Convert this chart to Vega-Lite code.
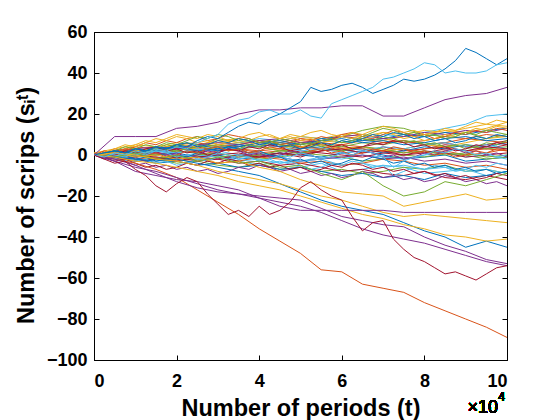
{"$schema":"https://vega.github.io/schema/vega-lite/v6.json","width":413,"height":328,"autosize":"none","padding":{"left":94,"top":32,"right":53,"bottom":60},
"config":{"view":{"stroke":"black","strokeWidth":1},"font":"Liberation Sans","axis":{"grid":false,"domainColor":"black","tickColor":"black","tickSize":-5,"labelColor":"black","labelFont":"Liberation Sans","labelFontSize":18,"labelFontWeight":"bold","titleFont":"Liberation Sans","titleFontSize":23.5,"titleFontWeight":"bold","titleColor":"black"}},
"data":{"values":[
{"s":8,"t":0,"v":0},{"s":8,"t":0.5,"v":1},{"s":8,"t":1,"v":3},{"s":8,"t":1.5,"v":2},{"s":8,"t":2,"v":4},{"s":8,"t":2.5,"v":3},{"s":8,"t":3,"v":5},{"s":8,"t":3.5,"v":4},{"s":8,"t":4,"v":6},{"s":8,"t":4.5,"v":5},{"s":8,"t":5,"v":7},{"s":8,"t":5.5,"v":6},{"s":8,"t":6,"v":5},{"s":8,"t":6.5,"v":7},{"s":8,"t":7,"v":8},{"s":8,"t":7.5,"v":6},{"s":8,"t":8,"v":7},{"s":8,"t":8.5,"v":9},{"s":8,"t":9,"v":8},{"s":8,"t":9.5,"v":10},{"s":8,"t":10,"v":9},
{"s":11,"t":0,"v":0},{"s":11,"t":0.5,"v":2},{"s":11,"t":1,"v":1},{"s":11,"t":1.5,"v":3},{"s":11,"t":2,"v":5},{"s":11,"t":2.5,"v":4},{"s":11,"t":3,"v":8},{"s":11,"t":3.5,"v":6},{"s":11,"t":4,"v":7},{"s":11,"t":4.5,"v":5},{"s":11,"t":5,"v":4},{"s":11,"t":5.5,"v":6},{"s":11,"t":6,"v":9},{"s":11,"t":6.5,"v":12},{"s":11,"t":7,"v":14},{"s":11,"t":7.5,"v":13},{"s":11,"t":8,"v":10},{"s":11,"t":8.5,"v":9},{"s":11,"t":9,"v":11},{"s":11,"t":9.5,"v":8},{"s":11,"t":10,"v":10},
{"s":12,"t":0,"v":1},{"s":12,"t":0.5,"v":-1},{"s":12,"t":1,"v":0},{"s":12,"t":1.5,"v":-2},{"s":12,"t":2,"v":-1},{"s":12,"t":2.5,"v":1},{"s":12,"t":3,"v":0},{"s":12,"t":3.5,"v":-3},{"s":12,"t":4,"v":-5},{"s":12,"t":4.5,"v":-3},{"s":12,"t":5,"v":-6},{"s":12,"t":5.5,"v":-4},{"s":12,"t":6,"v":-8},{"s":12,"t":6.5,"v":-7},{"s":12,"t":7,"v":-5},{"s":12,"t":7.5,"v":-6},{"s":12,"t":8,"v":-9},{"s":12,"t":8.5,"v":-8},{"s":12,"t":9,"v":-7},{"s":12,"t":9.5,"v":-10},{"s":12,"t":10,"v":-8},
{"s":13,"t":0,"v":0},{"s":13,"t":0.5,"v":-2},{"s":13,"t":1,"v":-1},{"s":13,"t":1.5,"v":0},{"s":13,"t":2,"v":2},{"s":13,"t":2.5,"v":1},{"s":13,"t":3,"v":3},{"s":13,"t":3.5,"v":2},{"s":13,"t":4,"v":0},{"s":13,"t":4.5,"v":1},{"s":13,"t":5,"v":-1},{"s":13,"t":5.5,"v":2},{"s":13,"t":6,"v":3},{"s":13,"t":6.5,"v":1},{"s":13,"t":7,"v":4},{"s":13,"t":7.5,"v":2},{"s":13,"t":8,"v":3},{"s":13,"t":8.5,"v":5},{"s":13,"t":9,"v":4},{"s":13,"t":9.5,"v":3},{"s":13,"t":10,"v":5},
{"s":14,"t":0,"v":0},{"s":14,"t":0.5,"v":1},{"s":14,"t":1,"v":-1},{"s":14,"t":1.5,"v":2},{"s":14,"t":2,"v":1},{"s":14,"t":2.5,"v":3},{"s":14,"t":3,"v":2},{"s":14,"t":3.5,"v":4},{"s":14,"t":4,"v":6},{"s":14,"t":4.5,"v":5},{"s":14,"t":5,"v":3},{"s":14,"t":5.5,"v":4},{"s":14,"t":6,"v":2},{"s":14,"t":6.5,"v":3},{"s":14,"t":7,"v":1},{"s":14,"t":7.5,"v":2},{"s":14,"t":8,"v":4},{"s":14,"t":8.5,"v":3},{"s":14,"t":9,"v":5},{"s":14,"t":9.5,"v":4},{"s":14,"t":10,"v":6},
{"s":15,"t":0,"v":1},{"s":15,"t":0.5,"v":0},{"s":15,"t":1,"v":2},{"s":15,"t":1.5,"v":1},{"s":15,"t":2,"v":-1},{"s":15,"t":2.5,"v":0},{"s":15,"t":3,"v":2},{"s":15,"t":3.5,"v":3},{"s":15,"t":4,"v":1},{"s":15,"t":4.5,"v":2},{"s":15,"t":5,"v":4},{"s":15,"t":5.5,"v":3},{"s":15,"t":6,"v":5},{"s":15,"t":6.5,"v":4},{"s":15,"t":7,"v":2},{"s":15,"t":7.5,"v":3},{"s":15,"t":8,"v":1},{"s":15,"t":8.5,"v":2},{"s":15,"t":9,"v":0},{"s":15,"t":9.5,"v":1},{"s":15,"t":10,"v":3},
{"s":18,"t":0,"v":0},{"s":18,"t":0.5,"v":-1},{"s":18,"t":1,"v":-3},{"s":18,"t":1.5,"v":-2},{"s":18,"t":2,"v":-4},{"s":18,"t":2.5,"v":-3},{"s":18,"t":3,"v":-5},{"s":18,"t":3.5,"v":-6},{"s":18,"t":4,"v":-4},{"s":18,"t":4.5,"v":-7},{"s":18,"t":5,"v":-6},{"s":18,"t":5.5,"v":-8},{"s":18,"t":6,"v":-7},{"s":18,"t":6.5,"v":-9},{"s":18,"t":7,"v":-8},{"s":18,"t":7.5,"v":-6},{"s":18,"t":8,"v":-7},{"s":18,"t":8.5,"v":-5},{"s":18,"t":9,"v":-8},{"s":18,"t":9.5,"v":-7},{"s":18,"t":10,"v":-9},
{"s":19,"t":0,"v":0},{"s":19,"t":0.5,"v":1},{"s":19,"t":1,"v":2},{"s":19,"t":1.5,"v":4},{"s":19,"t":2,"v":3},{"s":19,"t":2.5,"v":5},{"s":19,"t":3,"v":4},{"s":19,"t":3.5,"v":6},{"s":19,"t":4,"v":8},{"s":19,"t":4.5,"v":7},{"s":19,"t":5,"v":9},{"s":19,"t":5.5,"v":8},{"s":19,"t":6,"v":6},{"s":19,"t":6.5,"v":7},{"s":19,"t":7,"v":10},{"s":19,"t":7.5,"v":9},{"s":19,"t":8,"v":11},{"s":19,"t":8.5,"v":13},{"s":19,"t":9,"v":15},{"s":19,"t":9.5,"v":19},{"s":19,"t":10,"v":20},
{"s":20,"t":0,"v":0},{"s":20,"t":0.5,"v":-1},{"s":20,"t":1,"v":0},{"s":20,"t":1.5,"v":-2},{"s":20,"t":2,"v":-3},{"s":20,"t":2.5,"v":-1},{"s":20,"t":3,"v":-2},{"s":20,"t":3.5,"v":-4},{"s":20,"t":4,"v":-3},{"s":20,"t":4.5,"v":-5},{"s":20,"t":5,"v":-4},{"s":20,"t":5.5,"v":-6},{"s":20,"t":6,"v":-8},{"s":20,"t":6.5,"v":-7},{"s":20,"t":7,"v":-9},{"s":20,"t":7.5,"v":-10},{"s":20,"t":8,"v":-8},{"s":20,"t":8.5,"v":-11},{"s":20,"t":9,"v":-12},{"s":20,"t":9.5,"v":-10},{"s":20,"t":10,"v":-12},
{"s":21,"t":0,"v":0},{"s":21,"t":0.5,"v":2},{"s":21,"t":1,"v":1},{"s":21,"t":1.5,"v":0},{"s":21,"t":2,"v":1},{"s":21,"t":2.5,"v":-1},{"s":21,"t":3,"v":0},{"s":21,"t":3.5,"v":-2},{"s":21,"t":4,"v":-1},{"s":21,"t":4.5,"v":1},{"s":21,"t":5,"v":0},{"s":21,"t":5.5,"v":-1},{"s":21,"t":6,"v":1},{"s":21,"t":6.5,"v":2},{"s":21,"t":7,"v":0},{"s":21,"t":7.5,"v":-2},{"s":21,"t":8,"v":-1},{"s":21,"t":8.5,"v":0},{"s":21,"t":9,"v":-3},{"s":21,"t":9.5,"v":-2},{"s":21,"t":10,"v":-1},
{"s":22,"t":0,"v":0},{"s":22,"t":0.5,"v":1},{"s":22,"t":1,"v":0},{"s":22,"t":1.5,"v":2},{"s":22,"t":2,"v":3},{"s":22,"t":2.5,"v":2},{"s":22,"t":3,"v":4},{"s":22,"t":3.5,"v":3},{"s":22,"t":4,"v":2},{"s":22,"t":4.5,"v":3},{"s":22,"t":5,"v":1},{"s":22,"t":5.5,"v":2},{"s":22,"t":6,"v":4},{"s":22,"t":6.5,"v":3},{"s":22,"t":7,"v":2},{"s":22,"t":7.5,"v":1},{"s":22,"t":8,"v":3},{"s":22,"t":8.5,"v":4},{"s":22,"t":9,"v":2},{"s":22,"t":9.5,"v":3},{"s":22,"t":10,"v":2},
{"s":23,"t":0,"v":1},{"s":23,"t":0.5,"v":3},{"s":23,"t":1,"v":5},{"s":23,"t":1.5,"v":4},{"s":23,"t":2,"v":6},{"s":23,"t":2.5,"v":5},{"s":23,"t":3,"v":7},{"s":23,"t":3.5,"v":8},{"s":23,"t":4,"v":6},{"s":23,"t":4.5,"v":7},{"s":23,"t":5,"v":9},{"s":23,"t":5.5,"v":8},{"s":23,"t":6,"v":10},{"s":23,"t":6.5,"v":9},{"s":23,"t":7,"v":11},{"s":23,"t":7.5,"v":10},{"s":23,"t":8,"v":12},{"s":23,"t":8.5,"v":11},{"s":23,"t":9,"v":13},{"s":23,"t":9.5,"v":15},{"s":23,"t":10,"v":14},
{"s":25,"t":0,"v":0},{"s":25,"t":0.5,"v":-1},{"s":25,"t":1,"v":1},{"s":25,"t":1.5,"v":0},{"s":25,"t":2,"v":2},{"s":25,"t":2.5,"v":1},{"s":25,"t":3,"v":-1},{"s":25,"t":3.5,"v":0},{"s":25,"t":4,"v":-2},{"s":25,"t":4.5,"v":-1},{"s":25,"t":5,"v":1},{"s":25,"t":5.5,"v":0},{"s":25,"t":6,"v":-1},{"s":25,"t":6.5,"v":-3},{"s":25,"t":7,"v":-2},{"s":25,"t":7.5,"v":0},{"s":25,"t":8,"v":-1},{"s":25,"t":8.5,"v":1},{"s":25,"t":9,"v":0},{"s":25,"t":9.5,"v":-2},{"s":25,"t":10,"v":-1},
{"s":26,"t":0,"v":0},{"s":26,"t":0.5,"v":-2},{"s":26,"t":1,"v":-3},{"s":26,"t":1.5,"v":-1},{"s":26,"t":2,"v":-2},{"s":26,"t":2.5,"v":0},{"s":26,"t":3,"v":-1},{"s":26,"t":3.5,"v":-3},{"s":26,"t":4,"v":-2},{"s":26,"t":4.5,"v":-4},{"s":26,"t":5,"v":-3},{"s":26,"t":5.5,"v":-1},{"s":26,"t":6,"v":-2},{"s":26,"t":6.5,"v":0},{"s":26,"t":7,"v":-1},{"s":26,"t":7.5,"v":-2},{"s":26,"t":8,"v":0},{"s":26,"t":8.5,"v":1},{"s":26,"t":9,"v":-1},{"s":26,"t":9.5,"v":0},{"s":26,"t":10,"v":-2},
{"s":27,"t":0,"v":0},{"s":27,"t":0.5,"v":1},{"s":27,"t":1,"v":2},{"s":27,"t":1.5,"v":1},{"s":27,"t":2,"v":3},{"s":27,"t":2.5,"v":4},{"s":27,"t":3,"v":2},{"s":27,"t":3.5,"v":3},{"s":27,"t":4,"v":5},{"s":27,"t":4.5,"v":4},{"s":27,"t":5,"v":6},{"s":27,"t":5.5,"v":5},{"s":27,"t":6,"v":3},{"s":27,"t":6.5,"v":4},{"s":27,"t":7,"v":6},{"s":27,"t":7.5,"v":7},{"s":27,"t":8,"v":5},{"s":27,"t":8.5,"v":6},{"s":27,"t":9,"v":4},{"s":27,"t":9.5,"v":5},{"s":27,"t":10,"v":7},
{"s":28,"t":0,"v":0},{"s":28,"t":0.5,"v":-1},{"s":28,"t":1,"v":-2},{"s":28,"t":1.5,"v":-4},{"s":28,"t":2,"v":-3},{"s":28,"t":2.5,"v":-5},{"s":28,"t":3,"v":-4},{"s":28,"t":3.5,"v":-6},{"s":28,"t":4,"v":-5},{"s":28,"t":4.5,"v":-7},{"s":28,"t":5,"v":-6},{"s":28,"t":5.5,"v":-8},{"s":28,"t":6,"v":-10},{"s":28,"t":6.5,"v":-9},{"s":28,"t":7,"v":-11},{"s":28,"t":7.5,"v":-10},{"s":28,"t":8,"v":-12},{"s":28,"t":8.5,"v":-9},{"s":28,"t":9,"v":-11},{"s":28,"t":9.5,"v":-10},{"s":28,"t":10,"v":-8},
{"s":29,"t":0,"v":0},{"s":29,"t":0.5,"v":2},{"s":29,"t":1,"v":4},{"s":29,"t":1.5,"v":3},{"s":29,"t":2,"v":5},{"s":29,"t":2.5,"v":6},{"s":29,"t":3,"v":4},{"s":29,"t":3.5,"v":5},{"s":29,"t":4,"v":7},{"s":29,"t":4.5,"v":6},{"s":29,"t":5,"v":8},{"s":29,"t":5.5,"v":7},{"s":29,"t":6,"v":9},{"s":29,"t":6.5,"v":8},{"s":29,"t":7,"v":6},{"s":29,"t":7.5,"v":7},{"s":29,"t":8,"v":5},{"s":29,"t":8.5,"v":6},{"s":29,"t":9,"v":8},{"s":29,"t":9.5,"v":7},{"s":29,"t":10,"v":6},
{"s":30,"t":0,"v":0},{"s":30,"t":0.5,"v":1},{"s":30,"t":1,"v":3},{"s":30,"t":1.5,"v":2},{"s":30,"t":2,"v":4},{"s":30,"t":2.5,"v":3},{"s":30,"t":3,"v":5},{"s":30,"t":3.5,"v":6},{"s":30,"t":4,"v":4},{"s":30,"t":4.5,"v":3},{"s":30,"t":5,"v":5},{"s":30,"t":5.5,"v":7},{"s":30,"t":6,"v":6},{"s":30,"t":6.5,"v":8},{"s":30,"t":7,"v":7},{"s":30,"t":7.5,"v":9},{"s":30,"t":8,"v":10},{"s":30,"t":8.5,"v":12},{"s":30,"t":9,"v":11},{"s":30,"t":9.5,"v":13},{"s":30,"t":10,"v":16},
{"s":31,"t":0,"v":0},{"s":31,"t":0.5,"v":-1},{"s":31,"t":1,"v":0},{"s":31,"t":1.5,"v":1},{"s":31,"t":2,"v":0},{"s":31,"t":2.5,"v":-1},{"s":31,"t":3,"v":-2},{"s":31,"t":3.5,"v":-1},{"s":31,"t":4,"v":0},{"s":31,"t":4.5,"v":-1},{"s":31,"t":5,"v":-3},{"s":31,"t":5.5,"v":-2},{"s":31,"t":6,"v":-1},{"s":31,"t":6.5,"v":0},{"s":31,"t":7,"v":-2},{"s":31,"t":7.5,"v":-1},{"s":31,"t":8,"v":-3},{"s":31,"t":8.5,"v":-2},{"s":31,"t":9,"v":-4},{"s":31,"t":9.5,"v":-3},{"s":31,"t":10,"v":-5},
{"s":32,"t":0,"v":0},{"s":32,"t":0.5,"v":1},{"s":32,"t":1,"v":2},{"s":32,"t":1.5,"v":3},{"s":32,"t":2,"v":2},{"s":32,"t":2.5,"v":4},{"s":32,"t":3,"v":5},{"s":32,"t":3.5,"v":3},{"s":32,"t":4,"v":4},{"s":32,"t":4.5,"v":2},{"s":32,"t":5,"v":3},{"s":32,"t":5.5,"v":5},{"s":32,"t":6,"v":4},{"s":32,"t":6.5,"v":6},{"s":32,"t":7,"v":5},{"s":32,"t":7.5,"v":7},{"s":32,"t":8,"v":6},{"s":32,"t":8.5,"v":4},{"s":32,"t":9,"v":5},{"s":32,"t":9.5,"v":3},{"s":32,"t":10,"v":4},
{"s":33,"t":0,"v":0},{"s":33,"t":0.5,"v":-1},{"s":33,"t":1,"v":1},{"s":33,"t":1.5,"v":2},{"s":33,"t":2,"v":1},{"s":33,"t":2.5,"v":3},{"s":33,"t":3,"v":2},{"s":33,"t":3.5,"v":0},{"s":33,"t":4,"v":1},{"s":33,"t":4.5,"v":-1},{"s":33,"t":5,"v":-3},{"s":33,"t":5.5,"v":-2},{"s":33,"t":6,"v":-5},{"s":33,"t":6.5,"v":-4},{"s":33,"t":7,"v":-6},{"s":33,"t":7.5,"v":-5},{"s":33,"t":8,"v":-7},{"s":33,"t":8.5,"v":-6},{"s":33,"t":9,"v":-8},{"s":33,"t":9.5,"v":-7},{"s":33,"t":10,"v":-9},
{"s":34,"t":0,"v":0},{"s":34,"t":0.5,"v":1},{"s":34,"t":1,"v":0},{"s":34,"t":1.5,"v":-1},{"s":34,"t":2,"v":-2},{"s":34,"t":2.5,"v":-1},{"s":34,"t":3,"v":0},{"s":34,"t":3.5,"v":1},{"s":34,"t":4,"v":-1},{"s":34,"t":4.5,"v":0},{"s":34,"t":5,"v":2},{"s":34,"t":5.5,"v":1},{"s":34,"t":6,"v":0},{"s":34,"t":6.5,"v":-1},{"s":34,"t":7,"v":1},{"s":34,"t":7.5,"v":0},{"s":34,"t":8,"v":2},{"s":34,"t":8.5,"v":1},{"s":34,"t":9,"v":-1},{"s":34,"t":9.5,"v":0},{"s":34,"t":10,"v":1},
{"s":35,"t":0,"v":0},{"s":35,"t":0.5,"v":1},{"s":35,"t":1,"v":3},{"s":35,"t":1.5,"v":2},{"s":35,"t":2,"v":4},{"s":35,"t":2.5,"v":5},{"s":35,"t":3,"v":3},{"s":35,"t":3.5,"v":4},{"s":35,"t":4,"v":6},{"s":35,"t":4.5,"v":7},{"s":35,"t":5,"v":5},{"s":35,"t":5.5,"v":8},{"s":35,"t":6,"v":9},{"s":35,"t":6.5,"v":7},{"s":35,"t":7,"v":8},{"s":35,"t":7.5,"v":10},{"s":35,"t":8,"v":9},{"s":35,"t":8.5,"v":11},{"s":35,"t":9,"v":10},{"s":35,"t":9.5,"v":12},{"s":35,"t":10,"v":13},
{"s":36,"t":0,"v":0},{"s":36,"t":0.5,"v":-1},{"s":36,"t":1,"v":-2},{"s":36,"t":1.5,"v":-1},{"s":36,"t":2,"v":-3},{"s":36,"t":2.5,"v":-2},{"s":36,"t":3,"v":-4},{"s":36,"t":3.5,"v":-3},{"s":36,"t":4,"v":-1},{"s":36,"t":4.5,"v":-2},{"s":36,"t":5,"v":-4},{"s":36,"t":5.5,"v":-3},{"s":36,"t":6,"v":-5},{"s":36,"t":6.5,"v":-4},{"s":36,"t":7,"v":-2},{"s":36,"t":7.5,"v":-3},{"s":36,"t":8,"v":-5},{"s":36,"t":8.5,"v":-4},{"s":36,"t":9,"v":-6},{"s":36,"t":9.5,"v":-5},{"s":36,"t":10,"v":-7},
{"s":37,"t":0,"v":0},{"s":37,"t":0.5,"v":1},{"s":37,"t":1,"v":2},{"s":37,"t":1.5,"v":3},{"s":37,"t":2,"v":5},{"s":37,"t":2.5,"v":4},{"s":37,"t":3,"v":6},{"s":37,"t":3.5,"v":7},{"s":37,"t":4,"v":5},{"s":37,"t":4.5,"v":6},{"s":37,"t":5,"v":4},{"s":37,"t":5.5,"v":5},{"s":37,"t":6,"v":3},{"s":37,"t":6.5,"v":4},{"s":37,"t":7,"v":2},{"s":37,"t":7.5,"v":3},{"s":37,"t":8,"v":5},{"s":37,"t":8.5,"v":4},{"s":37,"t":9,"v":6},{"s":37,"t":9.5,"v":8},{"s":37,"t":10,"v":9},
{"s":38,"t":0,"v":0},{"s":38,"t":0.5,"v":2},{"s":38,"t":1,"v":3},{"s":38,"t":1.5,"v":4},{"s":38,"t":2,"v":3},{"s":38,"t":2.5,"v":5},{"s":38,"t":3,"v":6},{"s":38,"t":3.5,"v":5},{"s":38,"t":4,"v":7},{"s":38,"t":4.5,"v":8},{"s":38,"t":5,"v":6},{"s":38,"t":5.5,"v":7},{"s":38,"t":6,"v":9},{"s":38,"t":6.5,"v":10},{"s":38,"t":7,"v":8},{"s":38,"t":7.5,"v":9},{"s":38,"t":8,"v":11},{"s":38,"t":8.5,"v":10},{"s":38,"t":9,"v":12},{"s":38,"t":9.5,"v":11},{"s":38,"t":10,"v":13},
{"s":39,"t":0,"v":0},{"s":39,"t":0.5,"v":-1},{"s":39,"t":1,"v":0},{"s":39,"t":1.5,"v":-2},{"s":39,"t":2,"v":-1},{"s":39,"t":2.5,"v":0},{"s":39,"t":3,"v":1},{"s":39,"t":3.5,"v":-1},{"s":39,"t":4,"v":0},{"s":39,"t":4.5,"v":2},{"s":39,"t":5,"v":1},{"s":39,"t":5.5,"v":3},{"s":39,"t":6,"v":2},{"s":39,"t":6.5,"v":4},{"s":39,"t":7,"v":3},{"s":39,"t":7.5,"v":1},{"s":39,"t":8,"v":2},{"s":39,"t":8.5,"v":0},{"s":39,"t":9,"v":1},{"s":39,"t":9.5,"v":-1},{"s":39,"t":10,"v":0},
{"s":40,"t":0,"v":0},{"s":40,"t":0.5,"v":1},{"s":40,"t":1,"v":0},{"s":40,"t":1.5,"v":2},{"s":40,"t":2,"v":1},{"s":40,"t":2.5,"v":2},{"s":40,"t":3,"v":4},{"s":40,"t":3.5,"v":3},{"s":40,"t":4,"v":5},{"s":40,"t":4.5,"v":4},{"s":40,"t":5,"v":2},{"s":40,"t":5.5,"v":3},{"s":40,"t":6,"v":1},{"s":40,"t":6.5,"v":2},{"s":40,"t":7,"v":4},{"s":40,"t":7.5,"v":3},{"s":40,"t":8,"v":5},{"s":40,"t":8.5,"v":6},{"s":40,"t":9,"v":4},{"s":40,"t":9.5,"v":5},{"s":40,"t":10,"v":3},
{"s":41,"t":0,"v":0},{"s":41,"t":0.5,"v":-1},{"s":41,"t":1,"v":-3},{"s":41,"t":1.5,"v":-2},{"s":41,"t":2,"v":-1},{"s":41,"t":2.5,"v":-3},{"s":41,"t":3,"v":-2},{"s":41,"t":3.5,"v":0},{"s":41,"t":4,"v":-1},{"s":41,"t":4.5,"v":1},{"s":41,"t":5,"v":0},{"s":41,"t":5.5,"v":2},{"s":41,"t":6,"v":3},{"s":41,"t":6.5,"v":1},{"s":41,"t":7,"v":2},{"s":41,"t":7.5,"v":0},{"s":41,"t":8,"v":1},{"s":41,"t":8.5,"v":3},{"s":41,"t":9,"v":2},{"s":41,"t":9.5,"v":4},{"s":41,"t":10,"v":3},
{"s":42,"t":0,"v":0},{"s":42,"t":0.5,"v":2},{"s":42,"t":1,"v":1},{"s":42,"t":1.5,"v":3},{"s":42,"t":2,"v":4},{"s":42,"t":2.5,"v":2},{"s":42,"t":3,"v":3},{"s":42,"t":3.5,"v":5},{"s":42,"t":4,"v":4},{"s":42,"t":4.5,"v":6},{"s":42,"t":5,"v":5},{"s":42,"t":5.5,"v":7},{"s":42,"t":6,"v":8},{"s":42,"t":6.5,"v":6},{"s":42,"t":7,"v":7},{"s":42,"t":7.5,"v":5},{"s":42,"t":8,"v":6},{"s":42,"t":8.5,"v":8},{"s":42,"t":9,"v":9},{"s":42,"t":9.5,"v":7},{"s":42,"t":10,"v":8},
{"s":43,"t":0,"v":0},{"s":43,"t":0.25,"v":1},{"s":43,"t":0.5,"v":3},{"s":43,"t":0.75,"v":2},{"s":43,"t":1,"v":4},{"s":43,"t":1.25,"v":6},{"s":43,"t":1.5,"v":5},{"s":43,"t":1.75,"v":7},{"s":43,"t":2,"v":6},{"s":43,"t":2.25,"v":8},{"s":43,"t":2.5,"v":9},{"s":43,"t":2.75,"v":7},{"s":43,"t":3,"v":8},{"s":43,"t":3.25,"v":10},{"s":43,"t":3.5,"v":9},{"s":43,"t":3.75,"v":8},{"s":43,"t":4,"v":6},{"s":43,"t":4.25,"v":7},{"s":43,"t":4.5,"v":5},{"s":43,"t":4.75,"v":6},{"s":43,"t":5,"v":8},{"s":43,"t":5.25,"v":7},{"s":43,"t":5.5,"v":9},{"s":43,"t":5.75,"v":8},{"s":43,"t":6,"v":10},{"s":43,"t":6.25,"v":11},{"s":43,"t":6.5,"v":9},{"s":43,"t":6.75,"v":8},{"s":43,"t":7,"v":10},{"s":43,"t":7.25,"v":12},{"s":43,"t":7.5,"v":11},{"s":43,"t":7.75,"v":9},{"s":43,"t":8,"v":10},{"s":43,"t":8.25,"v":8},{"s":43,"t":8.5,"v":9},{"s":43,"t":8.75,"v":11},{"s":43,"t":9,"v":10},{"s":43,"t":9.25,"v":12},{"s":43,"t":9.5,"v":11},{"s":43,"t":9.75,"v":13},{"s":43,"t":10,"v":12},
{"s":44,"t":0,"v":0},{"s":44,"t":0.25,"v":2},{"s":44,"t":0.5,"v":1},{"s":44,"t":0.75,"v":3},{"s":44,"t":1,"v":5},{"s":44,"t":1.25,"v":7},{"s":44,"t":1.5,"v":6},{"s":44,"t":1.75,"v":8},{"s":44,"t":2,"v":10},{"s":44,"t":2.25,"v":9},{"s":44,"t":2.5,"v":8},{"s":44,"t":2.75,"v":10},{"s":44,"t":3,"v":9},{"s":44,"t":3.25,"v":7},{"s":44,"t":3.5,"v":8},{"s":44,"t":3.75,"v":10},{"s":44,"t":4,"v":11},{"s":44,"t":4.25,"v":9},{"s":44,"t":4.5,"v":8},{"s":44,"t":4.75,"v":10},{"s":44,"t":5,"v":9},{"s":44,"t":5.25,"v":11},{"s":44,"t":5.5,"v":12},{"s":44,"t":5.75,"v":10},{"s":44,"t":6,"v":9},{"s":44,"t":6.25,"v":11},{"s":44,"t":6.5,"v":10},{"s":44,"t":6.75,"v":12},{"s":44,"t":7,"v":14},{"s":44,"t":7.25,"v":13},{"s":44,"t":7.5,"v":11},{"s":44,"t":7.75,"v":12},{"s":44,"t":8,"v":10},{"s":44,"t":8.25,"v":11},{"s":44,"t":8.5,"v":13},{"s":44,"t":8.75,"v":12},{"s":44,"t":9,"v":14},{"s":44,"t":9.25,"v":16},{"s":44,"t":9.5,"v":15},{"s":44,"t":9.75,"v":17},{"s":44,"t":10,"v":16},
{"s":45,"t":0,"v":0},{"s":45,"t":0.25,"v":-1},{"s":45,"t":0.5,"v":0},{"s":45,"t":0.75,"v":-2},{"s":45,"t":1,"v":-1},{"s":45,"t":1.25,"v":-3},{"s":45,"t":1.5,"v":-2},{"s":45,"t":1.75,"v":0},{"s":45,"t":2,"v":1},{"s":45,"t":2.25,"v":-1},{"s":45,"t":2.5,"v":0},{"s":45,"t":2.75,"v":2},{"s":45,"t":3,"v":1},{"s":45,"t":3.25,"v":3},{"s":45,"t":3.5,"v":2},{"s":45,"t":3.75,"v":0},{"s":45,"t":4,"v":1},{"s":45,"t":4.25,"v":-1},{"s":45,"t":4.5,"v":0},{"s":45,"t":4.75,"v":2},{"s":45,"t":5,"v":1},{"s":45,"t":5.25,"v":0},{"s":45,"t":5.5,"v":-2},{"s":45,"t":5.75,"v":-1},{"s":45,"t":6,"v":1},{"s":45,"t":6.25,"v":0},{"s":45,"t":6.5,"v":2},{"s":45,"t":6.75,"v":1},{"s":45,"t":7,"v":-1},{"s":45,"t":7.25,"v":0},{"s":45,"t":7.5,"v":-2},{"s":45,"t":7.75,"v":-1},{"s":45,"t":8,"v":1},{"s":45,"t":8.25,"v":0},{"s":45,"t":8.5,"v":2},{"s":45,"t":8.75,"v":3},{"s":45,"t":9,"v":1},{"s":45,"t":9.25,"v":2},{"s":45,"t":9.5,"v":0},{"s":45,"t":9.75,"v":1},{"s":45,"t":10,"v":-1},
{"s":46,"t":0,"v":0},{"s":46,"t":0.25,"v":1},{"s":46,"t":0.5,"v":-1},{"s":46,"t":0.75,"v":0},{"s":46,"t":1,"v":2},{"s":46,"t":1.25,"v":1},{"s":46,"t":1.5,"v":3},{"s":46,"t":1.75,"v":5},{"s":46,"t":2,"v":4},{"s":46,"t":2.25,"v":6},{"s":46,"t":2.5,"v":5},{"s":46,"t":2.75,"v":3},{"s":46,"t":3,"v":4},{"s":46,"t":3.25,"v":2},{"s":46,"t":3.5,"v":3},{"s":46,"t":3.75,"v":5},{"s":46,"t":4,"v":4},{"s":46,"t":4.25,"v":6},{"s":46,"t":4.5,"v":8},{"s":46,"t":4.75,"v":7},{"s":46,"t":5,"v":5},{"s":46,"t":5.25,"v":6},{"s":46,"t":5.5,"v":4},{"s":46,"t":5.75,"v":5},{"s":46,"t":6,"v":7},{"s":46,"t":6.25,"v":6},{"s":46,"t":6.5,"v":8},{"s":46,"t":6.75,"v":7},{"s":46,"t":7,"v":9},{"s":46,"t":7.25,"v":8},{"s":46,"t":7.5,"v":6},{"s":46,"t":7.75,"v":7},{"s":46,"t":8,"v":5},{"s":46,"t":8.25,"v":6},{"s":46,"t":8.5,"v":4},{"s":46,"t":8.75,"v":5},{"s":46,"t":9,"v":3},{"s":46,"t":9.25,"v":4},{"s":46,"t":9.5,"v":6},{"s":46,"t":9.75,"v":5},{"s":46,"t":10,"v":7},
{"s":47,"t":0,"v":0},{"s":47,"t":0.25,"v":-1},{"s":47,"t":0.5,"v":-2},{"s":47,"t":0.75,"v":-1},{"s":47,"t":1,"v":-3},{"s":47,"t":1.25,"v":-2},{"s":47,"t":1.5,"v":-4},{"s":47,"t":1.75,"v":-3},{"s":47,"t":2,"v":-5},{"s":47,"t":2.25,"v":-4},{"s":47,"t":2.5,"v":-2},{"s":47,"t":2.75,"v":-3},{"s":47,"t":3,"v":-1},{"s":47,"t":3.25,"v":-2},{"s":47,"t":3.5,"v":0},{"s":47,"t":3.75,"v":-1},{"s":47,"t":4,"v":-3},{"s":47,"t":4.25,"v":-2},{"s":47,"t":4.5,"v":-4},{"s":47,"t":4.75,"v":-3},{"s":47,"t":5,"v":-5},{"s":47,"t":5.25,"v":-7},{"s":47,"t":5.5,"v":-6},{"s":47,"t":5.75,"v":-4},{"s":47,"t":6,"v":-5},{"s":47,"t":6.25,"v":-3},{"s":47,"t":6.5,"v":-4},{"s":47,"t":6.75,"v":-6},{"s":47,"t":7,"v":-5},{"s":47,"t":7.25,"v":-10},{"s":47,"t":7.5,"v":-8},{"s":47,"t":7.75,"v":-6},{"s":47,"t":8,"v":-7},{"s":47,"t":8.25,"v":-5},{"s":47,"t":8.5,"v":-6},{"s":47,"t":8.75,"v":-8},{"s":47,"t":9,"v":-7},{"s":47,"t":9.25,"v":-5},{"s":47,"t":9.5,"v":-6},{"s":47,"t":9.75,"v":-4},{"s":47,"t":10,"v":-5},
{"s":48,"t":0,"v":0},{"s":48,"t":0.25,"v":1},{"s":48,"t":0.5,"v":0},{"s":48,"t":0.75,"v":2},{"s":48,"t":1,"v":1},{"s":48,"t":1.25,"v":3},{"s":48,"t":1.5,"v":4},{"s":48,"t":1.75,"v":2},{"s":48,"t":2,"v":3},{"s":48,"t":2.25,"v":1},{"s":48,"t":2.5,"v":2},{"s":48,"t":2.75,"v":0},{"s":48,"t":3,"v":1},{"s":48,"t":3.25,"v":3},{"s":48,"t":3.5,"v":2},{"s":48,"t":3.75,"v":4},{"s":48,"t":4,"v":3},{"s":48,"t":4.25,"v":5},{"s":48,"t":4.5,"v":4},{"s":48,"t":4.75,"v":2},{"s":48,"t":5,"v":3},{"s":48,"t":5.25,"v":5},{"s":48,"t":5.5,"v":6},{"s":48,"t":5.75,"v":4},{"s":48,"t":6,"v":5},{"s":48,"t":6.25,"v":3},{"s":48,"t":6.5,"v":4},{"s":48,"t":6.75,"v":6},{"s":48,"t":7,"v":5},{"s":48,"t":7.25,"v":7},{"s":48,"t":7.5,"v":6},{"s":48,"t":7.75,"v":4},{"s":48,"t":8,"v":5},{"s":48,"t":8.25,"v":3},{"s":48,"t":8.5,"v":4},{"s":48,"t":8.75,"v":2},{"s":48,"t":9,"v":3},{"s":48,"t":9.25,"v":5},{"s":48,"t":9.5,"v":4},{"s":48,"t":9.75,"v":6},{"s":48,"t":10,"v":5},
{"s":49,"t":0,"v":0},{"s":49,"t":0.25,"v":-1},{"s":49,"t":0.5,"v":1},{"s":49,"t":0.75,"v":0},{"s":49,"t":1,"v":-2},{"s":49,"t":1.25,"v":-1},{"s":49,"t":1.5,"v":-3},{"s":49,"t":1.75,"v":-2},{"s":49,"t":2,"v":0},{"s":49,"t":2.25,"v":-1},{"s":49,"t":2.5,"v":1},{"s":49,"t":2.75,"v":3},{"s":49,"t":3,"v":2},{"s":49,"t":3.25,"v":4},{"s":49,"t":3.5,"v":3},{"s":49,"t":3.75,"v":1},{"s":49,"t":4,"v":2},{"s":49,"t":4.25,"v":0},{"s":49,"t":4.5,"v":-1},{"s":49,"t":4.75,"v":-3},{"s":49,"t":5,"v":-2},{"s":49,"t":5.25,"v":-4},{"s":49,"t":5.5,"v":-3},{"s":49,"t":5.75,"v":-5},{"s":49,"t":6,"v":-4},{"s":49,"t":6.25,"v":-2},{"s":49,"t":6.5,"v":-3},{"s":49,"t":6.75,"v":-1},{"s":49,"t":7,"v":-2},{"s":49,"t":7.25,"v":-4},{"s":49,"t":7.5,"v":-3},{"s":49,"t":7.75,"v":-5},{"s":49,"t":8,"v":-4},{"s":49,"t":8.25,"v":-6},{"s":49,"t":8.5,"v":-5},{"s":49,"t":8.75,"v":-7},{"s":49,"t":9,"v":-6},{"s":49,"t":9.25,"v":-8},{"s":49,"t":9.5,"v":-7},{"s":49,"t":9.75,"v":-9},{"s":49,"t":10,"v":-8},
{"s":50,"t":0,"v":0},{"s":50,"t":0.25,"v":2},{"s":50,"t":0.5,"v":1},{"s":50,"t":0.75,"v":3},{"s":50,"t":1,"v":2},{"s":50,"t":1.25,"v":0},{"s":50,"t":1.5,"v":1},{"s":50,"t":1.75,"v":-1},{"s":50,"t":2,"v":0},{"s":50,"t":2.25,"v":2},{"s":50,"t":2.5,"v":1},{"s":50,"t":2.75,"v":3},{"s":50,"t":3,"v":4},{"s":50,"t":3.25,"v":2},{"s":50,"t":3.5,"v":3},{"s":50,"t":3.75,"v":1},{"s":50,"t":4,"v":2},{"s":50,"t":4.25,"v":4},{"s":50,"t":4.5,"v":3},{"s":50,"t":4.75,"v":5},{"s":50,"t":5,"v":4},{"s":50,"t":5.25,"v":2},{"s":50,"t":5.5,"v":3},{"s":50,"t":5.75,"v":1},{"s":50,"t":6,"v":2},{"s":50,"t":6.25,"v":0},{"s":50,"t":6.5,"v":1},{"s":50,"t":6.75,"v":3},{"s":50,"t":7,"v":2},{"s":50,"t":7.25,"v":4},{"s":50,"t":7.5,"v":3},{"s":50,"t":7.75,"v":1},{"s":50,"t":8,"v":2},{"s":50,"t":8.25,"v":0},{"s":50,"t":8.5,"v":1},{"s":50,"t":8.75,"v":-1},{"s":50,"t":9,"v":0},{"s":50,"t":9.25,"v":2},{"s":50,"t":9.5,"v":1},{"s":50,"t":9.75,"v":3},{"s":50,"t":10,"v":2},
{"s":51,"t":0,"v":0},{"s":51,"t":0.25,"v":1},{"s":51,"t":0.5,"v":3},{"s":51,"t":0.75,"v":5},{"s":51,"t":1,"v":4},{"s":51,"t":1.25,"v":6},{"s":51,"t":1.5,"v":8},{"s":51,"t":1.75,"v":7},{"s":51,"t":2,"v":9},{"s":51,"t":2.25,"v":8},{"s":51,"t":2.5,"v":6},{"s":51,"t":2.75,"v":7},{"s":51,"t":3,"v":5},{"s":51,"t":3.25,"v":6},{"s":51,"t":3.5,"v":8},{"s":51,"t":3.75,"v":7},{"s":51,"t":4,"v":9},{"s":51,"t":4.25,"v":10},{"s":51,"t":4.5,"v":8},{"s":51,"t":4.75,"v":9},{"s":51,"t":5,"v":7},{"s":51,"t":5.25,"v":8},{"s":51,"t":5.5,"v":6},{"s":51,"t":5.75,"v":7},{"s":51,"t":6,"v":9},{"s":51,"t":6.25,"v":8},{"s":51,"t":6.5,"v":10},{"s":51,"t":6.75,"v":9},{"s":51,"t":7,"v":11},{"s":51,"t":7.25,"v":10},{"s":51,"t":7.5,"v":8},{"s":51,"t":7.75,"v":9},{"s":51,"t":8,"v":7},{"s":51,"t":8.25,"v":8},{"s":51,"t":8.5,"v":10},{"s":51,"t":8.75,"v":9},{"s":51,"t":9,"v":11},{"s":51,"t":9.25,"v":13},{"s":51,"t":9.5,"v":12},{"s":51,"t":9.75,"v":14},{"s":51,"t":10,"v":13},
{"s":52,"t":0,"v":0},{"s":52,"t":0.25,"v":-2},{"s":52,"t":0.5,"v":-1},{"s":52,"t":0.75,"v":-3},{"s":52,"t":1,"v":-5},{"s":52,"t":1.25,"v":-4},{"s":52,"t":1.5,"v":-6},{"s":52,"t":1.75,"v":-5},{"s":52,"t":2,"v":-7},{"s":52,"t":2.25,"v":-6},{"s":52,"t":2.5,"v":-8},{"s":52,"t":2.75,"v":-7},{"s":52,"t":3,"v":-9},{"s":52,"t":3.25,"v":-8},{"s":52,"t":3.5,"v":-6},{"s":52,"t":3.75,"v":-7},{"s":52,"t":4,"v":-5},{"s":52,"t":4.25,"v":-6},{"s":52,"t":4.5,"v":-8},{"s":52,"t":4.75,"v":-7},{"s":52,"t":5,"v":-9},{"s":52,"t":5.25,"v":-8},{"s":52,"t":5.5,"v":-10},{"s":52,"t":5.75,"v":-9},{"s":52,"t":6,"v":-11},{"s":52,"t":6.25,"v":-10},{"s":52,"t":6.5,"v":-8},{"s":52,"t":6.75,"v":-9},{"s":52,"t":7,"v":-11},{"s":52,"t":7.25,"v":-10},{"s":52,"t":7.5,"v":-12},{"s":52,"t":7.75,"v":-11},{"s":52,"t":8,"v":-13},{"s":52,"t":8.25,"v":-12},{"s":52,"t":8.5,"v":-10},{"s":52,"t":8.75,"v":-11},{"s":52,"t":9,"v":-13},{"s":52,"t":9.25,"v":-12},{"s":52,"t":9.5,"v":-14},{"s":52,"t":9.75,"v":-13},{"s":52,"t":10,"v":-15},
{"s":53,"t":0,"v":0},{"s":53,"t":0.25,"v":1},{"s":53,"t":0.5,"v":2},{"s":53,"t":0.75,"v":4},{"s":53,"t":1,"v":3},{"s":53,"t":1.25,"v":5},{"s":53,"t":1.5,"v":4},{"s":53,"t":1.75,"v":6},{"s":53,"t":2,"v":5},{"s":53,"t":2.25,"v":7},{"s":53,"t":2.5,"v":9},{"s":53,"t":2.75,"v":8},{"s":53,"t":3,"v":10},{"s":53,"t":3.25,"v":9},{"s":53,"t":3.5,"v":7},{"s":53,"t":3.75,"v":8},{"s":53,"t":4,"v":6},{"s":53,"t":4.25,"v":7},{"s":53,"t":4.5,"v":5},{"s":53,"t":4.75,"v":4},{"s":53,"t":5,"v":6},{"s":53,"t":5.25,"v":5},{"s":53,"t":5.5,"v":7},{"s":53,"t":5.75,"v":8},{"s":53,"t":6,"v":6},{"s":53,"t":6.25,"v":7},{"s":53,"t":6.5,"v":9},{"s":53,"t":6.75,"v":11},{"s":53,"t":7,"v":13},{"s":53,"t":7.25,"v":12},{"s":53,"t":7.5,"v":10},{"s":53,"t":7.75,"v":11},{"s":53,"t":8,"v":9},{"s":53,"t":8.25,"v":10},{"s":53,"t":8.5,"v":8},{"s":53,"t":8.75,"v":9},{"s":53,"t":9,"v":11},{"s":53,"t":9.25,"v":10},{"s":53,"t":9.5,"v":12},{"s":53,"t":9.75,"v":11},{"s":53,"t":10,"v":10},
{"s":54,"t":0,"v":0},{"s":54,"t":0.25,"v":1},{"s":54,"t":0.5,"v":0},{"s":54,"t":0.75,"v":-1},{"s":54,"t":1,"v":1},{"s":54,"t":1.25,"v":0},{"s":54,"t":1.5,"v":2},{"s":54,"t":1.75,"v":1},{"s":54,"t":2,"v":-1},{"s":54,"t":2.25,"v":0},{"s":54,"t":2.5,"v":-2},{"s":54,"t":2.75,"v":-1},{"s":54,"t":3,"v":1},{"s":54,"t":3.25,"v":0},{"s":54,"t":3.5,"v":-2},{"s":54,"t":3.75,"v":-1},{"s":54,"t":4,"v":-3},{"s":54,"t":4.25,"v":-2},{"s":54,"t":4.5,"v":0},{"s":54,"t":4.75,"v":-1},{"s":54,"t":5,"v":1},{"s":54,"t":5.25,"v":0},{"s":54,"t":5.5,"v":-2},{"s":54,"t":5.75,"v":-1},{"s":54,"t":6,"v":1},{"s":54,"t":6.25,"v":0},{"s":54,"t":6.5,"v":2},{"s":54,"t":6.75,"v":1},{"s":54,"t":7,"v":-1},{"s":54,"t":7.25,"v":-6},{"s":54,"t":7.5,"v":-3},{"s":54,"t":7.75,"v":-1},{"s":54,"t":8,"v":0},{"s":54,"t":8.25,"v":2},{"s":54,"t":8.5,"v":1},{"s":54,"t":8.75,"v":3},{"s":54,"t":9,"v":2},{"s":54,"t":9.25,"v":0},{"s":54,"t":9.5,"v":1},{"s":54,"t":9.75,"v":-1},{"s":54,"t":10,"v":0},
{"s":55,"t":0,"v":0},{"s":55,"t":0.25,"v":-1},{"s":55,"t":0.5,"v":-3},{"s":55,"t":0.75,"v":-2},{"s":55,"t":1,"v":-4},{"s":55,"t":1.25,"v":-6},{"s":55,"t":1.5,"v":-5},{"s":55,"t":1.75,"v":-7},{"s":55,"t":2,"v":-6},{"s":55,"t":2.25,"v":-4},{"s":55,"t":2.5,"v":-5},{"s":55,"t":2.75,"v":-3},{"s":55,"t":3,"v":-4},{"s":55,"t":3.25,"v":-2},{"s":55,"t":3.5,"v":-3},{"s":55,"t":3.75,"v":-5},{"s":55,"t":4,"v":-4},{"s":55,"t":4.25,"v":-6},{"s":55,"t":4.5,"v":-5},{"s":55,"t":4.75,"v":-7},{"s":55,"t":5,"v":-6},{"s":55,"t":5.25,"v":-8},{"s":55,"t":5.5,"v":-7},{"s":55,"t":5.75,"v":-5},{"s":55,"t":6,"v":-6},{"s":55,"t":6.25,"v":-4},{"s":55,"t":6.5,"v":-5},{"s":55,"t":6.75,"v":-7},{"s":55,"t":7,"v":-6},{"s":55,"t":7.25,"v":-8},{"s":55,"t":7.5,"v":-7},{"s":55,"t":7.75,"v":-9},{"s":55,"t":8,"v":-8},{"s":55,"t":8.25,"v":-10},{"s":55,"t":8.5,"v":-9},{"s":55,"t":8.75,"v":-11},{"s":55,"t":9,"v":-10},{"s":55,"t":9.25,"v":-12},{"s":55,"t":9.5,"v":-11},{"s":55,"t":9.75,"v":-9},{"s":55,"t":10,"v":-10},
{"s":56,"t":0,"v":0},{"s":56,"t":0.25,"v":1},{"s":56,"t":0.5,"v":2},{"s":56,"t":0.75,"v":1},{"s":56,"t":1,"v":3},{"s":56,"t":1.25,"v":2},{"s":56,"t":1.5,"v":4},{"s":56,"t":1.75,"v":3},{"s":56,"t":2,"v":5},{"s":56,"t":2.25,"v":6},{"s":56,"t":2.5,"v":4},{"s":56,"t":2.75,"v":5},{"s":56,"t":3,"v":7},{"s":56,"t":3.25,"v":6},{"s":56,"t":3.5,"v":8},{"s":56,"t":3.75,"v":7},{"s":56,"t":4,"v":5},{"s":56,"t":4.25,"v":6},{"s":56,"t":4.5,"v":4},{"s":56,"t":4.75,"v":5},{"s":56,"t":5,"v":3},{"s":56,"t":5.25,"v":4},{"s":56,"t":5.5,"v":6},{"s":56,"t":5.75,"v":5},{"s":56,"t":6,"v":7},{"s":56,"t":6.25,"v":6},{"s":56,"t":6.5,"v":8},{"s":56,"t":6.75,"v":10},{"s":56,"t":7,"v":9},{"s":56,"t":7.25,"v":11},{"s":56,"t":7.5,"v":10},{"s":56,"t":7.75,"v":8},{"s":56,"t":8,"v":9},{"s":56,"t":8.25,"v":7},{"s":56,"t":8.5,"v":8},{"s":56,"t":8.75,"v":6},{"s":56,"t":9,"v":7},{"s":56,"t":9.25,"v":9},{"s":56,"t":9.5,"v":8},{"s":56,"t":9.75,"v":10},{"s":56,"t":10,"v":9},
{"s":1,"t":0,"v":0},{"s":1,"t":0.5,"v":-2},{"s":1,"t":1,"v":-4},{"s":1,"t":1.5,"v":-7},{"s":1,"t":2,"v":-11},{"s":1,"t":2.5,"v":-17},{"s":1,"t":3,"v":-23},{"s":1,"t":3.5,"v":-29},{"s":1,"t":4,"v":-36},{"s":1,"t":4.5,"v":-42},{"s":1,"t":5,"v":-48},{"s":1,"t":5.5,"v":-56},{"s":1,"t":6,"v":-57},{"s":1,"t":6.5,"v":-63},{"s":1,"t":7,"v":-65},{"s":1,"t":7.5,"v":-67},{"s":1,"t":8,"v":-72},{"s":1,"t":8.5,"v":-76},{"s":1,"t":9,"v":-80},{"s":1,"t":9.5,"v":-84},{"s":1,"t":10,"v":-89},
{"s":2,"t":0,"v":0},{"s":2,"t":0.5,"v":1},{"s":2,"t":1,"v":-1},{"s":2,"t":1.5,"v":0},{"s":2,"t":2,"v":-2},{"s":2,"t":2.5,"v":-1},{"s":2,"t":3,"v":-4},{"s":2,"t":3.5,"v":-3},{"s":2,"t":4,"v":-6},{"s":2,"t":4.5,"v":-8},{"s":2,"t":5,"v":-12},{"s":2,"t":5.5,"v":-15},{"s":2,"t":6,"v":-18},{"s":2,"t":6.5,"v":-19},{"s":2,"t":7,"v":-20},{"s":2,"t":7.5,"v":-25},{"s":2,"t":8,"v":-23},{"s":2,"t":8.5,"v":-21},{"s":2,"t":9,"v":-19},{"s":2,"t":9.5,"v":-22},{"s":2,"t":10,"v":-21},
{"s":3,"t":0,"v":0},{"s":3,"t":0.5,"v":9},{"s":3,"t":1,"v":9},{"s":3,"t":1.5,"v":9},{"s":3,"t":2,"v":13},{"s":3,"t":2.5,"v":14},{"s":3,"t":3,"v":16},{"s":3,"t":3.5,"v":20},{"s":3,"t":4,"v":22},{"s":3,"t":4.5,"v":22},{"s":3,"t":5,"v":23},{"s":3,"t":5.5,"v":23},{"s":3,"t":6,"v":24},{"s":3,"t":6.5,"v":24},{"s":3,"t":7,"v":19},{"s":3,"t":7.5,"v":19},{"s":3,"t":8,"v":23},{"s":3,"t":8.5,"v":27},{"s":3,"t":9,"v":29},{"s":3,"t":9.5,"v":30},{"s":3,"t":10,"v":33},
{"s":4,"t":0,"v":0},{"s":4,"t":0.5,"v":-1},{"s":4,"t":1,"v":1},{"s":4,"t":1.5,"v":-2},{"s":4,"t":2,"v":0},{"s":4,"t":2.5,"v":-3},{"s":4,"t":3,"v":-1},{"s":4,"t":3.5,"v":-4},{"s":4,"t":4,"v":-3},{"s":4,"t":4.5,"v":-6},{"s":4,"t":5,"v":-5},{"s":4,"t":5.5,"v":-9},{"s":4,"t":6,"v":-12},{"s":4,"t":6.5,"v":-8},{"s":4,"t":7,"v":-15},{"s":4,"t":7.5,"v":-20},{"s":4,"t":8,"v":-18},{"s":4,"t":8.5,"v":-13},{"s":4,"t":9,"v":-15},{"s":4,"t":9.5,"v":-12},{"s":4,"t":10,"v":-9},
{"s":7,"t":0,"v":0},{"s":7,"t":0.5,"v":-1},{"s":7,"t":1,"v":-2},{"s":7,"t":1.5,"v":-3},{"s":7,"t":2,"v":-2},{"s":7,"t":2.5,"v":-4},{"s":7,"t":3,"v":-6},{"s":7,"t":3.5,"v":-8},{"s":7,"t":4,"v":-10},{"s":7,"t":4.5,"v":-14},{"s":7,"t":5,"v":-18},{"s":7,"t":5.5,"v":-22},{"s":7,"t":6,"v":-25},{"s":7,"t":6.5,"v":-27},{"s":7,"t":7,"v":-29},{"s":7,"t":7.5,"v":-33},{"s":7,"t":8,"v":-37},{"s":7,"t":8.5,"v":-40},{"s":7,"t":9,"v":-45},{"s":7,"t":9.5,"v":-42},{"s":7,"t":10,"v":-45},
{"s":9,"t":0,"v":0},{"s":9,"t":0.5,"v":1},{"s":9,"t":1,"v":0},{"s":9,"t":1.5,"v":-2},{"s":9,"t":2,"v":-3},{"s":9,"t":2.5,"v":-5},{"s":9,"t":3,"v":-8},{"s":9,"t":3.5,"v":-10},{"s":9,"t":4,"v":-12},{"s":9,"t":4.5,"v":-14},{"s":9,"t":5,"v":-17},{"s":9,"t":5.5,"v":-20},{"s":9,"t":6,"v":-22},{"s":9,"t":6.5,"v":-25},{"s":9,"t":7,"v":-28},{"s":9,"t":7.5,"v":-30},{"s":9,"t":8,"v":-29},{"s":9,"t":8.5,"v":-30},{"s":9,"t":9,"v":-31},{"s":9,"t":9.5,"v":-32},{"s":9,"t":10,"v":-33},
{"s":10,"t":0,"v":0},{"s":10,"t":0.5,"v":-2},{"s":10,"t":1,"v":-5},{"s":10,"t":1.5,"v":-9},{"s":10,"t":2,"v":-13},{"s":10,"t":2.5,"v":-16},{"s":10,"t":3,"v":-18},{"s":10,"t":3.5,"v":-19},{"s":10,"t":4,"v":-20},{"s":10,"t":4.5,"v":-21},{"s":10,"t":5,"v":-22},{"s":10,"t":5.5,"v":-26},{"s":10,"t":6,"v":-30},{"s":10,"t":6.5,"v":-32},{"s":10,"t":7,"v":-34},{"s":10,"t":7.5,"v":-35},{"s":10,"t":8,"v":-40},{"s":10,"t":8.5,"v":-44},{"s":10,"t":9,"v":-47},{"s":10,"t":9.5,"v":-51},{"s":10,"t":10,"v":-53},
{"s":16,"t":0,"v":0},{"s":16,"t":0.5,"v":-1},{"s":16,"t":1,"v":-3},{"s":16,"t":1.5,"v":-4},{"s":16,"t":2,"v":-6},{"s":16,"t":2.5,"v":-8},{"s":16,"t":3,"v":-10},{"s":16,"t":3.5,"v":-13},{"s":16,"t":4,"v":-15},{"s":16,"t":4.5,"v":-17},{"s":16,"t":5,"v":-20},{"s":16,"t":5.5,"v":-23},{"s":16,"t":6,"v":-26},{"s":16,"t":6.5,"v":-29},{"s":16,"t":7,"v":-31},{"s":16,"t":7.5,"v":-34},{"s":16,"t":8,"v":-36},{"s":16,"t":8.5,"v":-39},{"s":16,"t":9,"v":-40},{"s":16,"t":9.5,"v":-42},{"s":16,"t":10,"v":-41},
{"s":17,"t":0,"v":0},{"s":17,"t":0.5,"v":-3},{"s":17,"t":1,"v":-6},{"s":17,"t":1.5,"v":-8},{"s":17,"t":2,"v":-11},{"s":17,"t":2.5,"v":-14},{"s":17,"t":3,"v":-17},{"s":17,"t":3.5,"v":-19},{"s":17,"t":4,"v":-21},{"s":17,"t":4.5,"v":-23},{"s":17,"t":5,"v":-25},{"s":17,"t":5.5,"v":-28},{"s":17,"t":6,"v":-32},{"s":17,"t":6.5,"v":-36},{"s":17,"t":7,"v":-39},{"s":17,"t":7.5,"v":-41},{"s":17,"t":8,"v":-43},{"s":17,"t":8.5,"v":-46},{"s":17,"t":9,"v":-49},{"s":17,"t":9.5,"v":-52},{"s":17,"t":10,"v":-54},
{"s":24,"t":0,"v":0},{"s":24,"t":0.5,"v":-3},{"s":24,"t":1,"v":-8},{"s":24,"t":1.5,"v":-10},{"s":24,"t":2,"v":-12},{"s":24,"t":2.5,"v":-13},{"s":24,"t":3,"v":-15},{"s":24,"t":3.5,"v":-17},{"s":24,"t":4,"v":-21},{"s":24,"t":4.5,"v":-25},{"s":24,"t":5,"v":-27},{"s":24,"t":5.5,"v":-27},{"s":24,"t":6,"v":-27},{"s":24,"t":6.5,"v":-27},{"s":24,"t":7,"v":-27},{"s":24,"t":7.5,"v":-28},{"s":24,"t":8,"v":-28},{"s":24,"t":8.5,"v":-28},{"s":24,"t":9,"v":-28},{"s":24,"t":9.5,"v":-28},{"s":24,"t":10,"v":-28},
{"s":0,"t":0,"v":0},{"s":0,"t":0.25,"v":1},{"s":0,"t":0.5,"v":2},{"s":0,"t":0.75,"v":1},{"s":0,"t":1,"v":3},{"s":0,"t":1.25,"v":2},{"s":0,"t":1.5,"v":4},{"s":0,"t":1.75,"v":3},{"s":0,"t":2,"v":5},{"s":0,"t":2.25,"v":4},{"s":0,"t":2.5,"v":7},{"s":0,"t":2.75,"v":9},{"s":0,"t":3,"v":8},{"s":0,"t":3.25,"v":11},{"s":0,"t":3.5,"v":14},{"s":0,"t":3.75,"v":16},{"s":0,"t":4,"v":15},{"s":0,"t":4.25,"v":18},{"s":0,"t":4.5,"v":20},{"s":0,"t":4.75,"v":23},{"s":0,"t":5,"v":26},{"s":0,"t":5.25,"v":33},{"s":0,"t":5.5,"v":31},{"s":0,"t":5.75,"v":32},{"s":0,"t":6,"v":34},{"s":0,"t":6.25,"v":35},{"s":0,"t":6.5,"v":33},{"s":0,"t":6.75,"v":30},{"s":0,"t":7,"v":32},{"s":0,"t":7.25,"v":34},{"s":0,"t":7.5,"v":37},{"s":0,"t":7.75,"v":36},{"s":0,"t":8,"v":37},{"s":0,"t":8.25,"v":39},{"s":0,"t":8.5,"v":42},{"s":0,"t":8.75,"v":46},{"s":0,"t":9,"v":52},{"s":0,"t":9.25,"v":50},{"s":0,"t":9.5,"v":47},{"s":0,"t":9.75,"v":44},{"s":0,"t":10,"v":47},
{"s":5,"t":0,"v":0},{"s":5,"t":0.25,"v":-1},{"s":5,"t":0.5,"v":1},{"s":5,"t":0.75,"v":0},{"s":5,"t":1,"v":2},{"s":5,"t":1.25,"v":1},{"s":5,"t":1.5,"v":3},{"s":5,"t":1.75,"v":2},{"s":5,"t":2,"v":4},{"s":5,"t":2.25,"v":3},{"s":5,"t":2.5,"v":6},{"s":5,"t":2.75,"v":8},{"s":5,"t":3,"v":10},{"s":5,"t":3.25,"v":15},{"s":5,"t":3.5,"v":17},{"s":5,"t":3.75,"v":18},{"s":5,"t":4,"v":21},{"s":5,"t":4.25,"v":22},{"s":5,"t":4.5,"v":20},{"s":5,"t":4.75,"v":20},{"s":5,"t":5,"v":22},{"s":5,"t":5.25,"v":19},{"s":5,"t":5.5,"v":18},{"s":5,"t":5.75,"v":25},{"s":5,"t":6,"v":27},{"s":5,"t":6.25,"v":29},{"s":5,"t":6.5,"v":31},{"s":5,"t":6.75,"v":33},{"s":5,"t":7,"v":37},{"s":5,"t":7.25,"v":38},{"s":5,"t":7.5,"v":40},{"s":5,"t":7.75,"v":42},{"s":5,"t":8,"v":45},{"s":5,"t":8.25,"v":44},{"s":5,"t":8.5,"v":40},{"s":5,"t":8.75,"v":41},{"s":5,"t":9,"v":40},{"s":5,"t":9.25,"v":40},{"s":5,"t":9.5,"v":41},{"s":5,"t":9.75,"v":44},{"s":5,"t":10,"v":45},
{"s":6,"t":0,"v":0},{"s":6,"t":0.25,"v":-2},{"s":6,"t":0.5,"v":-4},{"s":6,"t":0.75,"v":-3},{"s":6,"t":1,"v":-7},{"s":6,"t":1.25,"v":-10},{"s":6,"t":1.5,"v":-15},{"s":6,"t":1.75,"v":-18},{"s":6,"t":2,"v":-14},{"s":6,"t":2.25,"v":-11},{"s":6,"t":2.5,"v":-13},{"s":6,"t":2.75,"v":-19},{"s":6,"t":3,"v":-24},{"s":6,"t":3.25,"v":-29},{"s":6,"t":3.5,"v":-27},{"s":6,"t":3.75,"v":-30},{"s":6,"t":4,"v":-25},{"s":6,"t":4.25,"v":-29},{"s":6,"t":4.5,"v":-27},{"s":6,"t":4.75,"v":-23},{"s":6,"t":5,"v":-16},{"s":6,"t":5.25,"v":-13},{"s":6,"t":5.5,"v":-17},{"s":6,"t":5.75,"v":-20},{"s":6,"t":6,"v":-22},{"s":6,"t":6.25,"v":-30},{"s":6,"t":6.5,"v":-37},{"s":6,"t":6.75,"v":-33},{"s":6,"t":7,"v":-32},{"s":6,"t":7.25,"v":-41},{"s":6,"t":7.5,"v":-46},{"s":6,"t":7.75,"v":-50},{"s":6,"t":8,"v":-52},{"s":6,"t":8.25,"v":-55},{"s":6,"t":8.5,"v":-58},{"s":6,"t":8.75,"v":-57},{"s":6,"t":9,"v":-59},{"s":6,"t":9.25,"v":-61},{"s":6,"t":9.5,"v":-58},{"s":6,"t":9.75,"v":-55},{"s":6,"t":10,"v":-54}
]},
"layer":[
{"mark":{"type":"line","strokeWidth":1,"clip":true},
"encoding":{
"x":{"field":"t","type":"quantitative","scale":{"domain":[0,10],"nice":false},"axis":{"values":[0,2,4,6,8,10],"title":"Number of periods (t)","labelPadding":17,"titleY":55,"titleBaseline":"alphabetic"}},
"y":{"field":"v","type":"quantitative","scale":{"domain":[-100,60],"nice":false},"axis":{"values":[-100,-80,-60,-40,-20,0,20,40,60],"title":"Number of scrips (sᵢᵗ)","labelPadding":12,"titleX":-61,"titleY":173,"titleBaseline":"alphabetic"}},
"color":{"field":"s","type":"nominal","scale":{"range":["#0072BD","#D95319","#EDB120","#7E2F8E","#77AC30","#4DBEEE","#A2142F"]},"legend":null}}},
{"data":{"values":[]},"mark":"point","encoding":{
"x":{"field":"t","type":"quantitative","axis":{"orient":"top","values":[0,2,4,6,8,10],"labels":false,"title":null,"domain":false}},
"y":{"field":"v","type":"quantitative","axis":{"orient":"right","values":[-100,-80,-60,-40,-20,0,20,40,60],"labels":false,"title":null,"domain":false}}}},
{"mark":{"type":"text","text":"×10","align":"right","baseline":"alphabetic","dx":-9,"dy":53,"fontSize":18,"fontWeight":"normal","font":"Liberation Sans","color":"black","clip":false},
"encoding":{"x":{"datum":10,"type":"quantitative","axis":null},"y":{"datum":-100,"type":"quantitative","axis":null}}},
{"mark":{"type":"text","text":"4","align":"right","baseline":"alphabetic","dx":-2,"dy":41,"fontSize":12,"fontWeight":"normal","font":"Liberation Sans","color":"black","clip":false},
"encoding":{"x":{"datum":10,"type":"quantitative","axis":null},"y":{"datum":-100,"type":"quantitative","axis":null}}}
],
"resolve":{"axis":{"x":"independent","y":"independent"}}
}
